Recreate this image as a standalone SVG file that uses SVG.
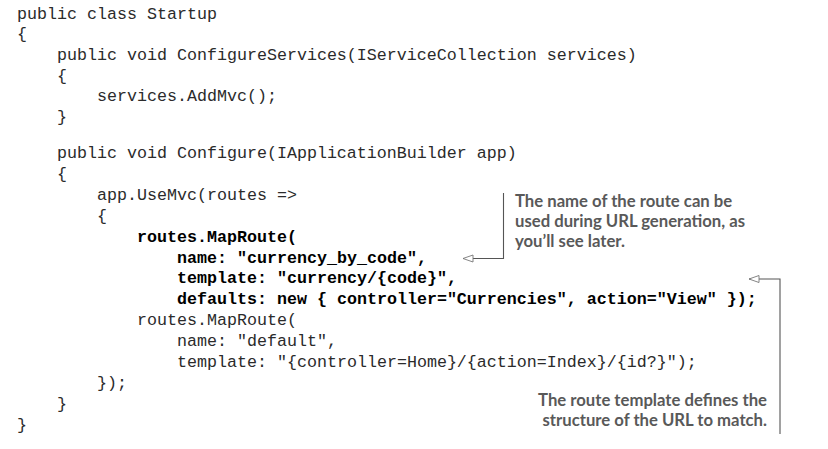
<svg xmlns="http://www.w3.org/2000/svg" width="828" height="449" viewBox="0 0 828 449">
<defs>
<style>
.code{font-family:"Liberation Mono","Courier New",monospace;font-size:16.667px;fill:#2b2b2b;}
.b{font-weight:bold;fill:#000;}
.note{font-family:Lato,"Open Sans","Liberation Sans",sans-serif;font-weight:bold;font-size:16.7px;fill:#595959;}
.conn{fill:none;stroke:#555;stroke-width:1.1;}
</style>
<marker id="arr" viewBox="0 0 12 10" refX="11" refY="5" markerWidth="12" markerHeight="10" markerUnits="userSpaceOnUse" orient="auto">
<path d="M11,5 L1,1.5 L1,8.5 Z" fill="#fff" stroke="#777" stroke-width="0.9"/>
</marker>
</defs>
<rect width="828" height="449" fill="#fff"/>
<g id="code" class="code">
<text x="17" y="18.5">public class Startup</text>
<text x="17" y="39.2">{</text>
<text x="57" y="59.8">public void ConfigureServices(IServiceCollection services)</text>
<text x="57" y="80.5">{</text>
<text x="97" y="101">services.AddMvc();</text>
<text x="57" y="121.5">}</text>
<text x="57" y="158">public void Configure(IApplicationBuilder app)</text>
<text x="57" y="178.9">{</text>
<text x="97" y="199.8">app.UseMvc(routes =&gt;</text>
<text x="97" y="220.7">{</text>
<text x="137" y="241.6" class="b">routes.MapRoute(</text>
<text x="177" y="262.5" class="b">name: "currency_by_code",</text>
<text x="177" y="283.4" class="b">template: "currency/{code}",</text>
<text x="177" y="304.3" class="b">defaults: new { controller="Currencies", action="View" });</text>
<text x="137" y="325.2">routes.MapRoute(</text>
<text x="177" y="346.1">name: "default",</text>
<text x="177" y="367">template: "{controller=Home}/{action=Index}/{id?}");</text>
<text x="97" y="387.9">});</text>
<text x="57" y="408.8">}</text>
<text x="17" y="429.7">}</text>
</g>
<g id="note-name" class="note">
<text x="515" y="207">The name of the route can be</text>
<text x="515" y="227">used during URL generation, as</text>
<text x="515" y="247">you’ll see later.</text>
</g>
<g id="note-template" class="note" text-anchor="end">
<text x="767" y="406">The route template defines the</text>
<text x="767" y="426">structure of the URL to match.</text>
</g>
<g id="connectors">
<path class="conn" d="M503.5,193 V258.5 H463" marker-end="url(#arr)"/>
<path class="conn" d="M780,434 V279 H749" marker-end="url(#arr)"/>
</g>
</svg>
